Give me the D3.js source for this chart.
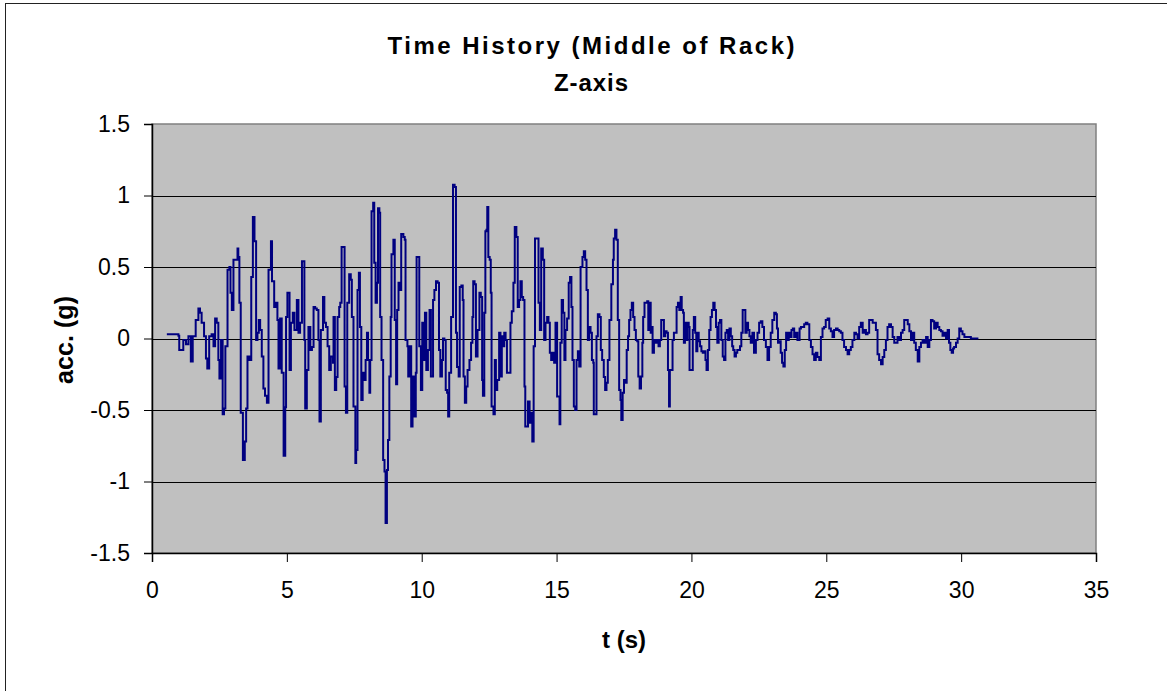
<!DOCTYPE html>
<html><head><meta charset="utf-8">
<script src="https://cdn.jsdelivr.net/npm/d3@7"></script>
<style>body{margin:0;background:#fff;} text{font-family:Arial,"Liberation Sans",sans-serif;}</style>
</head><body>
<svg id="chart" width="1167" height="691"></svg>
<script>
// ---- data ----
const titleLines = ["Time History (Middle of Rack)", "Z-axis"];
const xLabel = "t (s)";
const yLabel = "acc. (g)";
const xTicks = [0, 5, 10, 15, 20, 25, 30, 35];
const yTicks = [-1.5, -1, -0.5, 0, 0.5, 1, 1.5];
const yTickLabels = ["-1.5", "-1", "-0.5", "0", "0.5", "1", "1.5"];
const gridValues = [-1, -0.5, 0, 0.5, 1];

const times = [
0.55,0.98,1.01,1.16,1.26,1.35,1.44,1.51,1.62,1.72,1.78,1.84,1.93,2.0,2.05,2.12,2.21,2.28,2.34,2.40,2.46,2.50,2.56,2.62,2.67,2.72,2.80,2.87,2.91,2.96,3.02,3.09,3.17,3.20,3.24,3.29,3.37,3.44,3.49,3.54,3.61,3.68,3.74,3.80,3.86,3.91,3.96,4.01,4.07,4.13,4.19,4.26,4.32,4.41,4.45,4.53,4.60,4.65,4.69,4.75,4.81,4.88,4.94,4.97,5.02,5.10,5.15,5.22,5.28,5.37,5.43,5.49,5.56,
5.62,5.65,5.68,5.74,5.80,5.87,5.93,5.99,6.05,6.11,6.17,6.21,6.26,6.34,6.39,6.45,6.51,6.57,6.63,6.71,6.73,6.78,6.83,6.88,6.94,6.98,7.03,7.10,7.14,7.19,7.24,7.31,7.37,7.41,7.47,7.54,7.57,7.62,7.67,7.71,7.76,7.81,7.87,7.92,7.97,8.01,8.06,8.09,8.14,8.20,8.24,8.29,8.34,8.38,8.43,8.46,8.51,8.57,8.62,8.66,8.71,8.75,8.80,8.85,8.88,8.95,9.0,9.05,9.09,9.14,9.21,9.24,9.32,9.37,9.40,9.47,9.50,9.57,9.61,9.66,9.71,9.78,9.81,9.87,9.91,9.97,10.02,10.07,10.12,10.17,10.23,10.29,10.34,10.42,10.47,10.53,10.59,10.64,10.69,10.75,10.79,10.84,10.89,10.94,10.98,11.02,11.09,11.16,11.22,11.27,11.31,11.37,11.41,11.47,11.52,11.55,11.60,11.65,11.70,11.77,11.83,11.88,11.91,11.96,12.01,12.07,12.14,12.19,12.24,12.27,12.32,12.36,12.40,12.43,12.47,12.52,12.56,12.59,12.66,12.71,12.75,12.80,12.87,12.92,12.97,13.01,13.06,13.11,13.16,13.24,13.29,13.34,13.40,13.45,13.51,13.56,13.61,13.66,13.71,13.76,13.81,13.84,13.91,13.94,14.0,14.05,14.10,14.15,14.20,14.28,14.33,14.38,14.43,14.49,14.54,14.59,14.65,14.70,14.75,14.80,14.85,14.91,14.96,15.02,15.07,15.11,15.14,15.19,15.24,15.29,15.33,15.39,15.45,15.50,15.55,15.59,15.64,15.69,15.74,15.79,15.84,15.89,15.96,16.01,16.06,16.11,16.16,16.21,16.26,16.31,16.36,16.38,16.43,16.48,16.53,16.59,16.64,16.69,16.75,16.80,16.85,16.90,16.96,17.03,17.09,17.12,17.17,17.22,17.27,17.32,17.37,17.40,17.45,17.50,17.55,17.60,17.65,17.69,17.74,17.79,17.84,17.89,17.94,17.99,18.03,18.08,18.13,18.18,18.21,18.26,18.31,18.36,18.40,18.45,18.49,18.52,18.56,18.61,18.67,18.73,18.78,18.83,18.88,18.93,18.98,19.03,19.08,19.13,19.17,19.20,19.25,19.30,19.35,19.40,19.45,19.50,19.55,19.60,19.64,19.69,19.72,19.76,19.81,19.85,19.90,19.93,20.0,20.05,20.09,20.14,20.18,20.22,20.27,20.32,20.37,20.42,20.47,20.52,20.56,20.61,20.66,20.71,20.76,20.81,20.86,20.91,20.96,21.01,21.06,21.11,21.16,21.21,21.26,21.31,21.36,21.41,21.46,21.51,21.55,21.60,21.65,21.70,21.75,21.80,21.85,21.90,21.95,22.0,22.05,22.10,22.15,22.20,
22.26,22.32,22.39,22.45,22.51,22.57,22.63,22.69,22.76,22.82,22.88,22.94,23.00,23.07,23.13,23.17,23.21,23.26,23.31,23.36,23.41,23.46,23.51,23.56,23.61,23.66,23.71,23.76,23.81,23.86,23.93,24.01,24.06,24.13,24.18,24.24,24.30,24.37,24.43,24.49,24.55,24.61,24.67,24.74,24.80,24.86,24.92,24.98,25.05,25.11,25.17,25.23,25.29,25.36,25.42,25.48,25.54,25.60,25.66,25.73,25.79,25.85,25.91,25.97,26.04,26.10,26.16,26.22,26.28,26.35,26.41,26.47,26.53,26.59,26.65,26.72,26.78,26.84,26.90,26.96,27.03,27.09,27.15,27.21,27.27,27.33,27.40,27.46,27.52,27.58,27.64,27.71,27.77,27.83,27.89,27.95,28.02,28.08,28.14,28.20,28.26,28.32,28.39,28.45,28.51,28.57,28.63,28.70,28.76,28.82,28.88,28.94,29.00,29.07,29.13,29.19,29.25,29.31,29.37,29.44,29.50,29.55,29.60,29.65,29.70,29.74,29.81,29.87,29.93,29.99,30.05,30.12,30.24,30.36,30.49,30.64];

const accel = [
0.03,0.02,-0.08,-0.01,-0.04,0.015,-0.16,0.015,0.13,0.21,0.18,0.11,0.015,-0.14,-0.21,0.015,0.03,-0.055,0.14,0.11,-0.15,-0.28,-0.01,-0.53,-0.49,-0.055,0.48,0.5,0.32,0.2,0.55,0.55,0.63,0.57,0.25,-0.52,-0.85,-0.72,-0.49,-0.125,-0.15,0.43,0.85,0.68,-0.01,0.04,0.13,0.06,-0.125,-0.35,-0.4,-0.45,0.48,0.68,0.4,0.22,0.25,0.13,-0.21,0.14,-0.24,-0.82,-0.48,0.15,0.32,-0.22,0.11,0.18,0.06,0.27,0.04,0.11,0.54,
0.54,-0.01,-0.49,-0.22,0.08,-0.08,-0.06,0.22,0.21,0.2,-0.01,-0.58,0.06,0.29,0.11,0.08,-0.055,-0.22,-0.125,-0.17,0.15,-0.36,-0.27,0.15,0.22,0.25,0.64,0.64,-0.335,-0.52,0.25,0.45,0.41,0.15,-0.475,-0.87,-0.78,0.34,0.46,0.08,-0.43,-0.24,-0.29,-0.15,0.04,-0.15,-0.38,-0.15,0.89,0.95,0.53,0.25,0.39,0.91,0.88,0.15,-0.15,-0.85,-0.93,-1.29,-0.92,-0.71,-0.265,0.15,0.59,0.69,0.13,-0.32,0.2,0.39,0.34,0.73,0.71,0.69,-0.01,-0.055,-0.265,-0.055,-0.615,-0.265,-0.545,-0.24,0.57,0.57,-0.055,-0.36,0.11,-0.15,0.18,-0.22,-0.08,0.2,-0.265,0.27,0.34,0.4,0.39,-0.08,-0.265,-0.15,0.0,-0.01,-0.36,-0.38,-0.545,-0.24,0.15,1.075,1.06,0.04,-0.2,-0.265,0.36,0.37,0.27,-0.265,-0.45,-0.335,-0.22,-0.15,-0.03,0.15,0.4,0.38,-0.125,0.06,0.32,0.29,-0.29,-0.4,0.18,0.75,0.76,0.92,0.57,0.55,0.32,-0.475,-0.53,-0.15,-0.36,-0.29,0.04,-0.265,0.015,-0.055,0.04,-0.01,-0.24,-0.24,0.11,0.19,0.39,0.78,0.71,0.22,0.27,0.4,0.29,0.27,-0.335,-0.615,-0.615,-0.44,-0.59,-0.52,-0.72,-0.055,0.70,0.70,0.25,0.06,0.63,0.55,-0.01,0.11,0.15,0.11,-0.1,-0.15,-0.1,-0.17,0.11,-0.405,-0.405,-0.6,-0.03,0.27,0.18,-0.15,0.06,0.14,0.39,0.43,0.22,-0.15,-0.475,-0.5,-0.15,-0.09,-0.195,0.5,0.57,0.61,0.55,0.34,-0.01,0.08,0.04,-0.15,-0.17,-0.53,-0.53,0.015,0.17,0.15,-0.08,-0.15,-0.27,-0.36,-0.31,-0.15,0.13,0.38,0.55,0.70,0.76,0.69,0.13,-0.36,-0.43,-0.57,-0.38,-0.29,-0.31,-0.08,0.015,0.13,0.2,0.25,0.15,0.06,-0.01,-0.02,-0.265,-0.35,-0.265,-0.03,0.15,0.25,0.25,0.26,0.06,0.25,0.04,0.08,-0.1,-0.01,-0.03,-0.01,-0.055,-0.01,0.13,0.13,0.015,0.05,0.04,-0.22,-0.475,-0.22,-0.22,-0.01,0.04,0.04,0.22,0.25,0.2,0.29,0.2,0.18,-0.03,0.11,-0.01,0.11,0.08,-0.22,-0.22,0.06,0.15,0.04,-0.09,0.04,-0.02,-0.055,-0.09,-0.1,-0.09,-0.15,-0.22,-0.08,0.06,0.15,0.2,0.25,0.2,0.08,-0.03,0.11,0.13,-0.01,-0.125,-0.15,0.04,0.06,-0.01,0.07,0.015,-0.055,-0.08,-0.125,-0.1,-0.08,-0.08,-0.055,0.04,0.2,0.2,0.04,0.11,0.06,0.015,-0.03,
0.04,-0.10,-0.01,0.04,0.11,0.12,0.08,-0.01,-0.06,-0.15,-0.06,0.04,0.13,0.18,0.17,0.07,-0.03,-0.02,-0.1,-0.17,-0.195,-0.08,0.04,-0.01,0.04,0.01,0.06,0.07,0.01,0.04,-0.01,0.07,0.08,0.08,0.1,0.11,0.1,-0.01,-0.06,-0.11,-0.15,-0.1,-0.13,-0.15,0.01,0.07,0.08,0.13,0.14,0.07,0.05,0.01,0.06,0.07,0.06,0.05,0.04,-0.01,-0.06,-0.08,-0.11,-0.08,-0.06,-0.01,0.04,0.03,0.0,0.08,0.11,0.04,0.06,0.03,0.04,0.13,0.13,0.11,0.11,0.06,-0.11,-0.15,-0.18,-0.13,-0.08,-0.01,0.08,0.1,0.08,0.01,-0.03,-0.03,0.01,-0.01,0.04,0.06,0.13,0.13,0.1,0.05,-0.01,0.04,-0.03,-0.08,-0.16,-0.06,-0.03,-0.01,-0.03,0.01,-0.06,-0.01,0.13,0.12,0.07,0.11,0.08,0.06,0.05,0.02,0.04,0.0,0.06,-0.03,-0.08,-0.10,-0.07,-0.06,-0.03,0.0,0.07,0.05,0.03,0.01,0.01,0.0,0.0,0.0];

// ---- layout ----
const W = 1167, H = 691;
const plot = {left: 152, right: 1096, top: 124, bottom: 553};
const svg = d3.select("#chart");
svg.append("rect").attr("width", W).attr("height", H).attr("fill", "#fff");
// chart area border (only top & left visible)
svg.append("rect").attr("x", 5.5).attr("y", 3.5).attr("width", 1300).attr("height", 900)
  .attr("fill", "none").attr("stroke", "#222").attr("stroke-width", 1);

const x = d3.scaleLinear().domain([0, 35]).range([plot.left, plot.right]);
const y = d3.scaleLinear().domain([-1.5, 1.5]).range([plot.bottom, plot.top]);

svg.append("rect").attr("x", plot.left).attr("y", plot.top)
  .attr("width", plot.right - plot.left).attr("height", plot.bottom - plot.top)
  .attr("fill", "#C0C0C0").attr("stroke", "#808080").attr("stroke-width", 1.5);

svg.append("g").selectAll("line").data(gridValues).join("line")
  .attr("x1", plot.left).attr("x2", plot.right)
  .attr("y1", d => Math.round(y(d)) + 0.5).attr("y2", d => Math.round(y(d)) + 0.5)
  .attr("stroke", "#000").attr("stroke-width", 1);

// axes
const yAxis = d3.axisLeft(y).tickValues(yTicks)
  .tickFormat((d, i) => yTickLabels[i]).tickSize(8).tickPadding(14);
const gy = svg.append("g").attr("transform", `translate(${plot.left},0)`).call(yAxis);
gy.select(".domain").attr("stroke", "#000").attr("stroke-width", 1.5);
gy.selectAll(".tick line").attr("stroke", "#000");
gy.selectAll("text").attr("font-size", 23).attr("fill", "#000")
  .style("font-family", "Arial, 'Liberation Sans', sans-serif");

const xAxis = d3.axisBottom(x).tickValues(xTicks).tickSize(9).tickPadding(20);
const gx = svg.append("g").attr("transform", `translate(0,${plot.bottom})`).call(xAxis);
gx.select(".domain").attr("stroke", "#000").attr("stroke-width", 1.5);
gx.selectAll(".tick line").attr("stroke", "#000");
gx.selectAll("text").attr("font-size", 23).attr("fill", "#000")
  .style("font-family", "Arial, 'Liberation Sans', sans-serif");

// data line
const data = times.map((t, i) => ({t, v: accel[i]}));
const line = d3.line().x(d => x(d.t)).y(d => y(d.v)).curve(d3.curveStepAfter);
svg.append("path").datum(data).attr("d", line)
  .attr("fill", "none").attr("stroke", "#000080").attr("stroke-width", 2)
  .attr("stroke-linejoin", "miter");

// titles
svg.append("text").attr("x", 591).attr("y", 54).attr("text-anchor", "middle")
  .attr("font-size", 24).attr("font-weight", "bold")
  .attr("textLength", 407).attr("lengthAdjust", "spacing").text(titleLines[0]);
svg.append("text").attr("x", 591).attr("y", 91).attr("text-anchor", "middle")
  .attr("font-size", 24).attr("font-weight", "bold")
  .attr("textLength", 74).attr("lengthAdjust", "spacing").text(titleLines[1]);

svg.append("text").attr("x", 624).attr("y", 648).attr("text-anchor", "middle")
  .attr("font-size", 24).attr("font-weight", "bold").text(xLabel);

svg.append("text").attr("transform", "translate(73,340) rotate(-90)")
  .attr("text-anchor", "middle").attr("font-size", 25).attr("font-weight", "bold")
  .attr("textLength", 88).attr("lengthAdjust", "spacing").text(yLabel);
</script>
</body></html>
